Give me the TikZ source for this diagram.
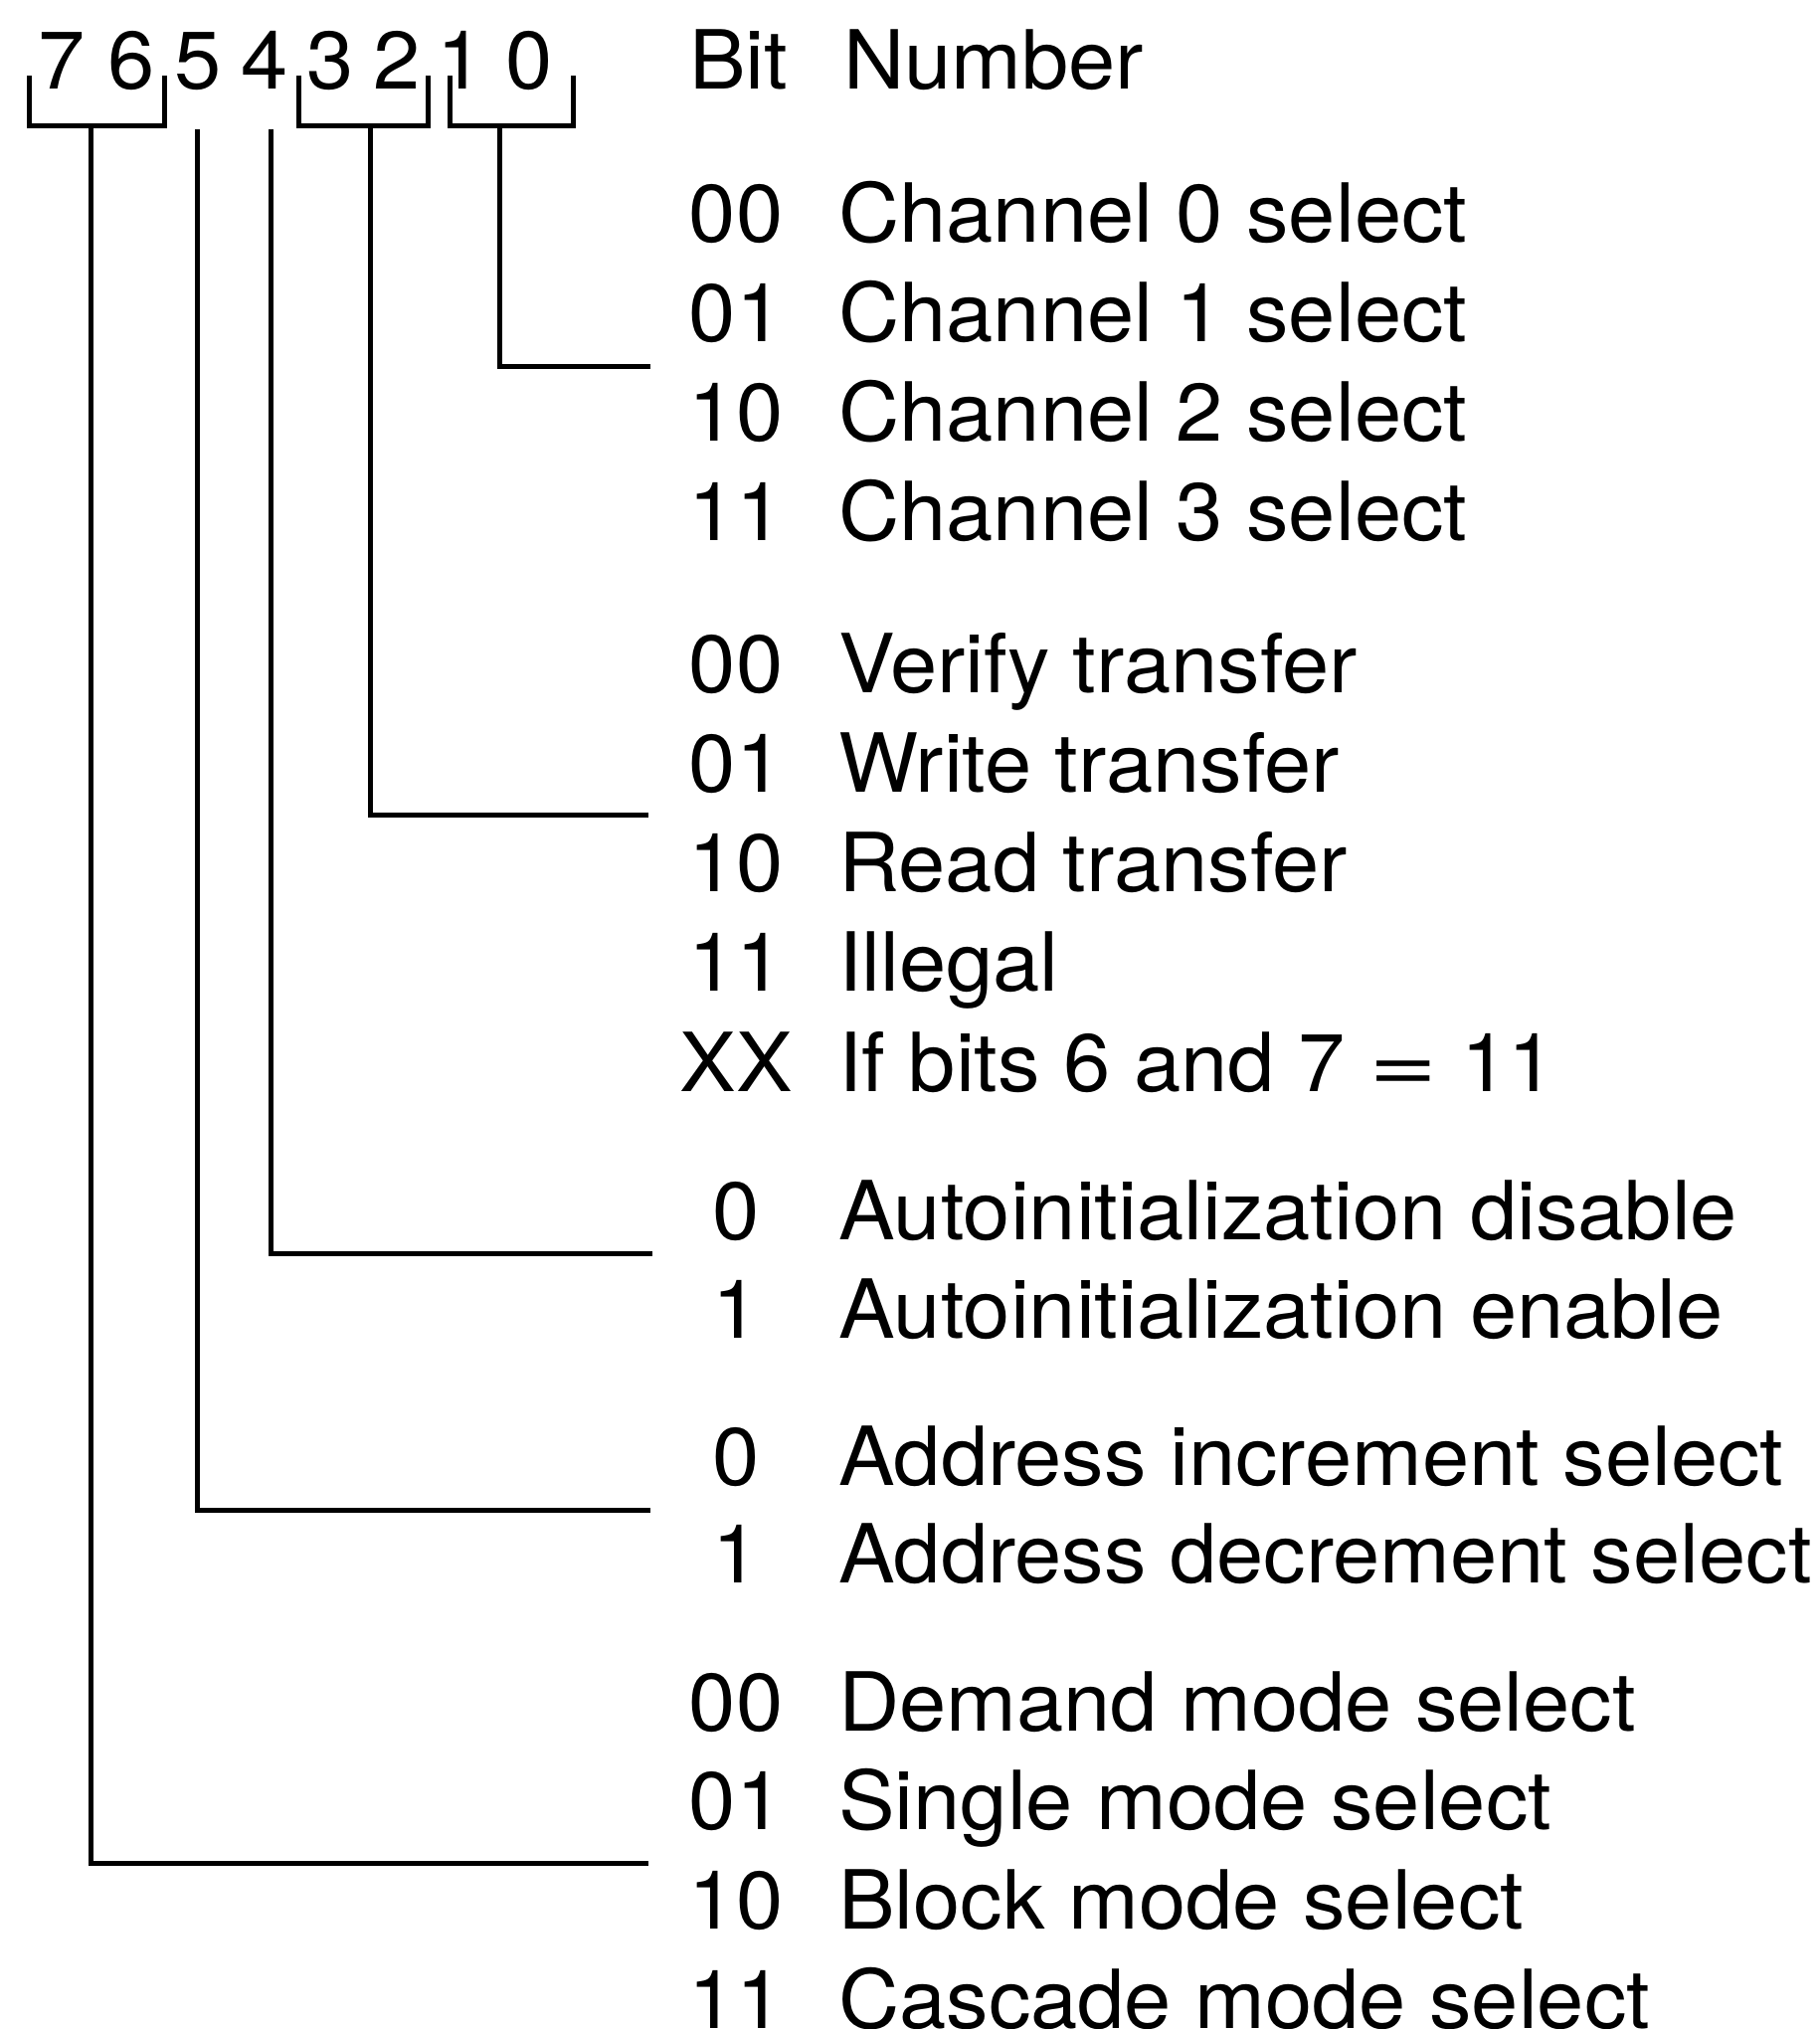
\documentclass[tikz,border=0pt]{standalone}
\usepackage{fontspec}
\setmainfont[FakeStretch=1.035]{TeX Gyre Heros}
\begin{document}
\begin{tikzpicture}[x=1pt,y=-1pt]
\tikzset{
  txt/.style={anchor=base west, inner sep=0pt, font=\fontsize{82}{98}\selectfont},
  code/.style={anchor=base, inner sep=0pt, font=\fontsize{82}{98}\selectfont},
  bitno/.style={anchor=base, inner sep=0pt, font=\fontsize{82}{98}\selectfont},
  wire/.style={line width=5pt, line join=miter, line cap=butt}
}
\useasboundingbox (0,0) rectangle (1830,2040);
% bit numbers
\node[bitno] (b7) at (62,89) {7};
\node[bitno] (b6) at (132,89) {6};
\node[bitno] (b5) at (199,89) {5};
\node[bitno] (b4) at (266,89) {4};
\node[bitno] (b3) at (332,89) {3};
\node[bitno] (b2) at (399,89) {2};
\node[bitno] (b1) at (463,89) {1};
\node[bitno] (b0) at (532,89) {0};
\node[txt] (hdr1) at (693,89) {Bit};
\node[txt] (hdr2) at (848,89) {Number};
% brackets
\draw[wire] (29,76) |- (165,126) -- (165,76);
\draw[wire] (300,76) |- (430,126) -- (430,76);
\draw[wire] (452,76) |- (576,126) -- (576,76);
% stem origins
\coordinate (k76) at (91,126);
\coordinate (k5) at (198,130);
\coordinate (k4) at (272,130);
\coordinate (k32) at (372,126);
\coordinate (k10) at (502,126);
% free ends
\coordinate (e10) at (654,368);
\coordinate (e32) at (652,819);
\coordinate (e4) at (656,1260);
\coordinate (e5) at (654,1518);
\coordinate (e76) at (652,1873);
\draw[wire] (k10) |- (e10);
\draw[wire] (k32) |- (e32);
\draw[wire] (k4) |- (e4);
\draw[wire] (k5) |- (e5);
\draw[wire] (k76) |- (e76);
% channel select
\node[code] (c1) at (740,243) {00}; \node[txt] (t1) at (843,243) {Channel 0 select};
\node[code] (c2) at (740,343) {01}; \node[txt] (t2) at (843,343) {Channel 1 select};
\node[code] (c3) at (740,443) {10}; \node[txt] (t3) at (843,443) {Channel 2 select};
\node[code] (c4) at (740,543) {11}; \node[txt] (t4) at (843,543) {Channel 3 select};
% transfer
\node[code] (c5) at (740,696) {00}; \node[txt] (t5) at (843,696) {Verify transfer};
\node[code] (c6) at (740,796) {01}; \node[txt] (t6) at (843,796) {Write transfer};
\node[code] (c7) at (740,896) {10}; \node[txt] (t7) at (843,896) {Read transfer};
\node[code] (c8) at (740,996) {11}; \node[txt] (t8) at (843,996) {Illegal};
\node[code] (c9) at (740,1097) {XX}; \node[txt] (t9) at (843,1097) {If bits 6 and 7 \scalebox{1.4}[1]{=} 11};
% autoinit
\node[code] (c10) at (740,1246) {0}; \node[txt] (t10) at (843,1246) {Autoinitialization disable};
\node[code] (c11) at (740,1345) {1}; \node[txt] (t11) at (843,1345) {Autoinitialization enable};
% address
\node[code] (c12) at (740,1493) {0}; \node[txt] (t12) at (843,1493) {Address increment select};
\node[code] (c13) at (740,1591) {1}; \node[txt] (t13) at (843,1591) {Address decrement select};
% mode
\node[code] (c14) at (740,1740) {00}; \node[txt] (t14) at (843,1740) {Demand mode select};
\node[code] (c15) at (740,1839) {01}; \node[txt] (t15) at (843,1839) {Single mode select};
\node[code] (c16) at (740,1939) {10}; \node[txt] (t16) at (843,1939) {Block mode select};
\node[code] (c17) at (740,2039) {11}; \node[txt] (t17) at (843,2039) {Cascade mode select};
\end{tikzpicture}
\end{document}
